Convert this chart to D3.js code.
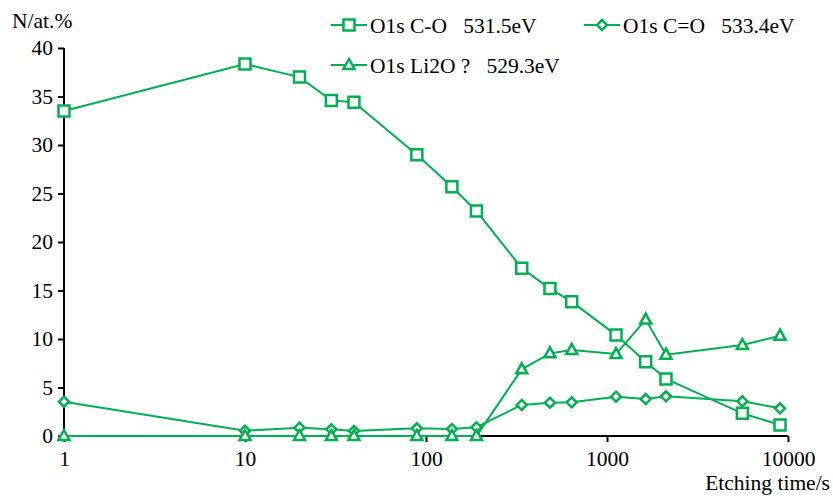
<!DOCTYPE html>
<head>
  <meta charset="utf-8">
  <title>O1s etching profile</title>
  <style>
    body { margin: 0; background: #fff; }
    svg text { fill: #000; white-space: pre; }
    .line { fill: none; stroke: #00b050; stroke-width: 2; }
    .mark { fill: #fff; stroke: #00b050; stroke-width: 2.5; }
  </style>
</head>
<body>
  <div id="chart"></div>
  <script src="https://d3js.org/d3.v7.min.js"></script>
  <script>
    // etching time (s) and atomic %
    const times = [1, 10, 20, 30, 40, 89, 139, 190, 338, 484, 638, 1122, 1636, 2118, 5598, 9035];
    const co = [33.5, 38.35, 37.0, 34.6, 34.4, 29.0, 25.7, 23.2, 17.3, 15.2, 13.85, 10.4, 7.66, 5.88, 2.34, 1.13];
    const cdo = [3.54, 0.55, 0.86, 0.69, 0.52, 0.79, 0.72, 0.9, 3.2, 3.43, 3.47, 4.05, 3.81, 4.09, 3.58, 2.85];
    const li2o = [0, 0, 0, 0, 0, 0, 0, 0, 6.87, 8.52, 8.87, 8.45, 12.0, 8.38, 9.38, 10.34];

    const seriesNames = ['O1s C-O   531.5eV', 'O1s C=O   533.4eV', 'O1s Li2O ?   529.3eV'];
    const xTicks = [1, 10, 100, 1000, 10000];
    const yTicks = [0, 5, 10, 15, 20, 25, 30, 35, 40];

    const FONT = 'Liberation Serif, Times New Roman, serif';
    const W = 833, H = 499;
    const svg = d3.select('#chart').append('svg')
      .attr('width', W).attr('height', H)
      .style('font-family', FONT).style('font-size', '21.5px');

    const x = d3.scaleLog().domain([1, 10000]).range([64, 788]);
    const y = d3.scaleLinear().domain([0, 40]).range([436, 48]);

    // marker shapes
    const square = 'M-5.5,-5.5H5.5V5.5H-5.5Z';
    const diamond = 'M0,-5L5,0L0,5L-5,0Z';
    const triangle = 'M0,-6L5.5,4H-5.5Z';

    const series = [
      { name: seriesNames[0], vals: co, shape: square },
      { name: seriesNames[1], vals: cdo, shape: diamond },
      { name: seriesNames[2], vals: li2o, shape: triangle }
    ];

    // axes
    const yAxis = svg.append('g')
      .attr('transform', 'translate(64,0)')
      .call(d3.axisLeft(y).tickValues(yTicks).tickSize(6).tickPadding(6));
    const xAxis = svg.append('g')
      .attr('transform', 'translate(0,436)')
      .call(d3.axisBottom(x).tickValues(xTicks).tickFormat(d3.format('d')).tickSize(6).tickPadding(9));

    [yAxis, xAxis].forEach(a => {
      a.attr('font-family', null).attr('font-size', null);
      a.select('.domain').attr('stroke', '#000').attr('stroke-width', 2);
      a.selectAll('.tick line').attr('stroke', '#000').attr('stroke-width', 2);
      a.selectAll('text').attr('fill', '#000');
    });
    yAxis.select('.domain').attr('d', `M0,${y(0)}V${y(40)}`);
    yAxis.selectAll('.tick text').attr('x', -11);
    xAxis.select('.domain').attr('d', `M${x(1)},0H${x(10000)}`);

    svg.append('text').attr('x', 12).attr('y', 28).text('N/at.%');
    svg.append('text').attr('x', 830).attr('y', 490).attr('text-anchor', 'end').text('Etching time/s');

    const line = d3.line()
      .x((d, i) => x(times[i]))
      .y(d => y(d));

    for (const s of series) {
      svg.append('path').datum(s.vals).attr('class', 'line').attr('d', line);
    }
    for (const s of series) {
      svg.append('g').selectAll('path')
        .data(s.vals)
        .join('path')
        .attr('class', 'mark')
        .attr('d', s.shape)
        .attr('transform', (d, i) => `translate(${x(times[i])},${y(d)})`);
    }

    // legend
    const legendPos = [[331, 25], [584, 25], [331, 65]];
    series.forEach((s, i) => {
      const [lx, ly] = legendPos[i];
      const g = svg.append('g').attr('transform', `translate(${lx},${ly})`);
      g.append('line').attr('class', 'line').attr('x1', 0).attr('x2', 36).attr('y1', 0).attr('y2', 0);
      g.append('path').attr('class', 'mark').attr('d', s.shape).attr('transform', 'translate(18,0)');
      g.append('text').attr('x', 39).attr('y', 8).text(s.name);
    });
  </script>
</body>
</html>
